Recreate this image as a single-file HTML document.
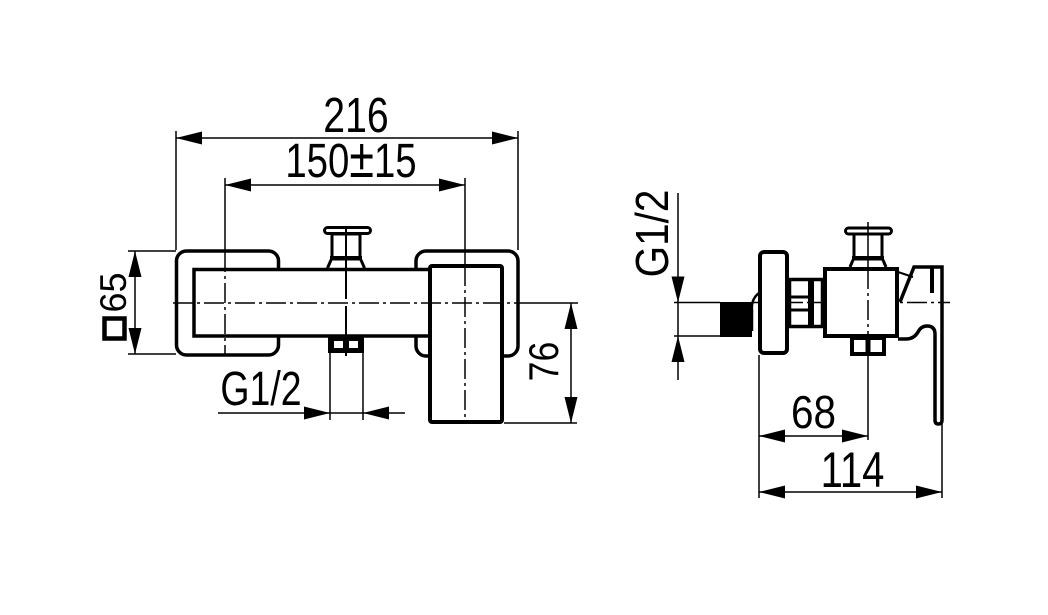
<!DOCTYPE html>
<html><head><meta charset="utf-8"><style>
html,body{margin:0;padding:0;background:#fff;}
svg{display:block;}
text{font-family:"Liberation Sans",sans-serif;fill:#000;}
</style></head><body>
<svg width="1048" height="615" viewBox="0 0 1048 615" xmlns="http://www.w3.org/2000/svg">
<rect width="1048" height="615" fill="#fff"/>

<!-- ===== LEFT (FRONT) VIEW ===== -->
<g fill="none" stroke="#000">
  <rect x="176.5" y="251" width="102" height="104" rx="10" stroke-width="3.5"/>
  <rect x="416" y="251" width="102" height="105" rx="10" stroke-width="3.5"/>
  <rect x="194" y="269.5" width="240" height="66.5" fill="#fff" stroke-width="3.5"/>
  <rect x="430" y="266" width="72" height="156" rx="2" fill="#fff" stroke-width="4"/>
  <rect x="324.5" y="227.5" width="46" height="6" rx="3" stroke-width="3"/>
  <rect x="332" y="234" width="28" height="25" stroke-width="3"/>
  <line x1="330" y1="258" x2="362" y2="258" stroke-width="4"/>
  <path d="M331 260 L327.5 268 M361 260 L364.5 268" stroke-width="3"/>
  <line x1="346" y1="228" x2="346" y2="299" stroke-width="2"/>
  <line x1="346" y1="306" x2="346" y2="356" stroke-width="2"/>
</g>
<rect x="328" y="336" width="36" height="17" fill="#000"/>
<rect x="334" y="341" width="9" height="7" fill="#fff"/>
<rect x="349" y="341" width="9" height="7" fill="#fff"/>

<g fill="none" stroke="#000" stroke-width="1.5">
  <line x1="173" y1="303" x2="520" y2="303" stroke-dasharray="20 4 3 4"/>
  <line x1="520" y1="303" x2="578" y2="303"/>
  <line x1="176" y1="131" x2="176" y2="250"/>
  <line x1="518" y1="131" x2="518" y2="250"/>
  <line x1="225" y1="178" x2="225" y2="250"/>
  <line x1="225" y1="252" x2="225" y2="356" stroke-dasharray="20 4 3 4"/>
  <line x1="465" y1="178" x2="465" y2="264"/>
  <line x1="465" y1="266" x2="465" y2="422" stroke-dasharray="20 4 3 4"/>
  <line x1="176" y1="138" x2="518" y2="138"/>
  <line x1="225" y1="185" x2="465" y2="185"/>
  <line x1="135" y1="251" x2="135" y2="354"/>
  <line x1="128" y1="251" x2="176" y2="251"/>
  <line x1="128" y1="354" x2="176" y2="354"/>
  <line x1="571" y1="303" x2="571" y2="423"/>
  <line x1="504" y1="423" x2="577" y2="423"/>
  <line x1="218" y1="413" x2="405" y2="413"/>
  <line x1="330" y1="353" x2="330" y2="420"/>
  <line x1="363" y1="353" x2="363" y2="420"/>
</g>
<g fill="#000">
  <polygon points="176,138 202,131.5 202,144.5"/>
  <polygon points="518,138 492,131.5 492,144.5"/>
  <polygon points="225,185 251,178.5 251,191.5"/>
  <polygon points="465,185 439,178.5 439,191.5"/>
  <polygon points="135,251 128.5,277 141.5,277"/>
  <polygon points="135,354 128.5,328 141.5,328"/>
  <polygon points="571,303 564.5,329 577.5,329"/>
  <polygon points="571,423 564.5,397 577.5,397"/>
  <polygon points="330,413 304,406.5 304,419.5"/>
  <polygon points="363,413 389,406.5 389,419.5"/>
</g>
<rect x="104.5" y="318.5" width="20" height="20" fill="none" stroke="#000" stroke-width="4.5"/>

<text transform="translate(356,132) scale(0.8,1)" text-anchor="middle" font-size="49">216</text>
<text transform="translate(351,177) scale(0.8,1)" text-anchor="middle" font-size="48">150<tspan font-size="56">±</tspan>15</text>
<text transform="translate(261,405) scale(0.78,1)" text-anchor="middle" font-size="48">G1/2</text>
<text transform="translate(126,292.5) rotate(-90) scale(0.97,1)" text-anchor="middle" font-size="37">65</text>
<text transform="translate(558,361.5) rotate(-90) scale(0.85,1)" text-anchor="middle" font-size="42">76</text>

<!-- ===== RIGHT (SIDE) VIEW ===== -->
<g fill="none" stroke="#000" stroke-width="1.5">
  <line x1="674" y1="302.5" x2="720" y2="302.5"/>
  <line x1="752" y1="302.5" x2="950" y2="302.5" stroke-dasharray="20 4 3 4"/>
  <line x1="674" y1="336" x2="720" y2="336"/>
  <line x1="678" y1="193" x2="678" y2="380"/>
  <line x1="759" y1="436" x2="868" y2="436"/>
  <line x1="759" y1="492" x2="942" y2="492"/>
  <line x1="759" y1="355" x2="759" y2="498"/>
  <line x1="942" y1="424" x2="942" y2="498"/>
</g>
<g fill="#000">
  <polygon points="678,302.5 671.5,276.5 684.5,276.5"/>
  <polygon points="678,336 671.5,362 684.5,362"/>
  <polygon points="759,436 785,429.5 785,442.5"/>
  <polygon points="868,436 842,429.5 842,442.5"/>
  <polygon points="759,492 785,485.5 785,498.5"/>
  <polygon points="942,492 916,485.5 916,498.5"/>
  <rect x="720" y="302" width="32" height="35"/>
</g>
<g fill="none" stroke="#000">
  <path d="M759 293 Q751 299 752 310 L752 331" stroke-width="2.5"/>
  <rect x="760" y="252" width="27" height="101" rx="4" stroke-width="4" fill="#fff"/>
  <rect x="789.5" y="279.5" width="33" height="47" stroke-width="3.5"/>
  <line x1="811" y1="279" x2="811" y2="327" stroke-width="6"/>
  <line x1="789" y1="297" x2="811" y2="297" stroke-width="3"/>
  <line x1="789" y1="310" x2="811" y2="310" stroke-width="3"/>
  <rect x="825" y="269" width="72" height="67" stroke-width="4" fill="#fff"/>
  <rect x="845.5" y="228" width="46" height="6" rx="3" stroke-width="3"/>
  <rect x="854" y="234" width="28" height="25" stroke-width="3"/>
  <line x1="852" y1="258" x2="884" y2="258" stroke-width="4"/>
  <path d="M853 260 L850 267 M883 260 L886 267" stroke-width="3"/>
  <rect x="852" y="338" width="32" height="16" stroke-width="4" fill="#fff"/>
  <line x1="868" y1="338" x2="868" y2="354" stroke-width="5"/>
  <path d="M900 302 L914 267 L942 267 L942 420 Q942 424 938.5 424 Q935 424 935 420 L935 334 Q935 326 927 326 Q921 326 918 332 Q914 339 906 339 L898 339" stroke-width="3.5"/>
  <line x1="932" y1="268" x2="932" y2="293" stroke-width="4"/>
  <line x1="898" y1="272" x2="913" y2="277" stroke-width="2"/>
  <line x1="868" y1="222" x2="868" y2="267" stroke-width="1.5"/>
  <line x1="868" y1="269" x2="868" y2="337" stroke-width="1.5" stroke-dasharray="20 4 3 4"/>
  <line x1="868" y1="354" x2="868" y2="440" stroke-width="1.5"/>
</g>

<text transform="translate(668,233.5) rotate(-90) scale(0.88,1)" text-anchor="middle" font-size="46">G1/2</text>
<text transform="translate(813.5,428) scale(0.88,1)" text-anchor="middle" font-size="46">68</text>
<text transform="translate(852.5,487) scale(0.8,1)" text-anchor="middle" font-size="50">114</text>
</svg>
</body></html>
